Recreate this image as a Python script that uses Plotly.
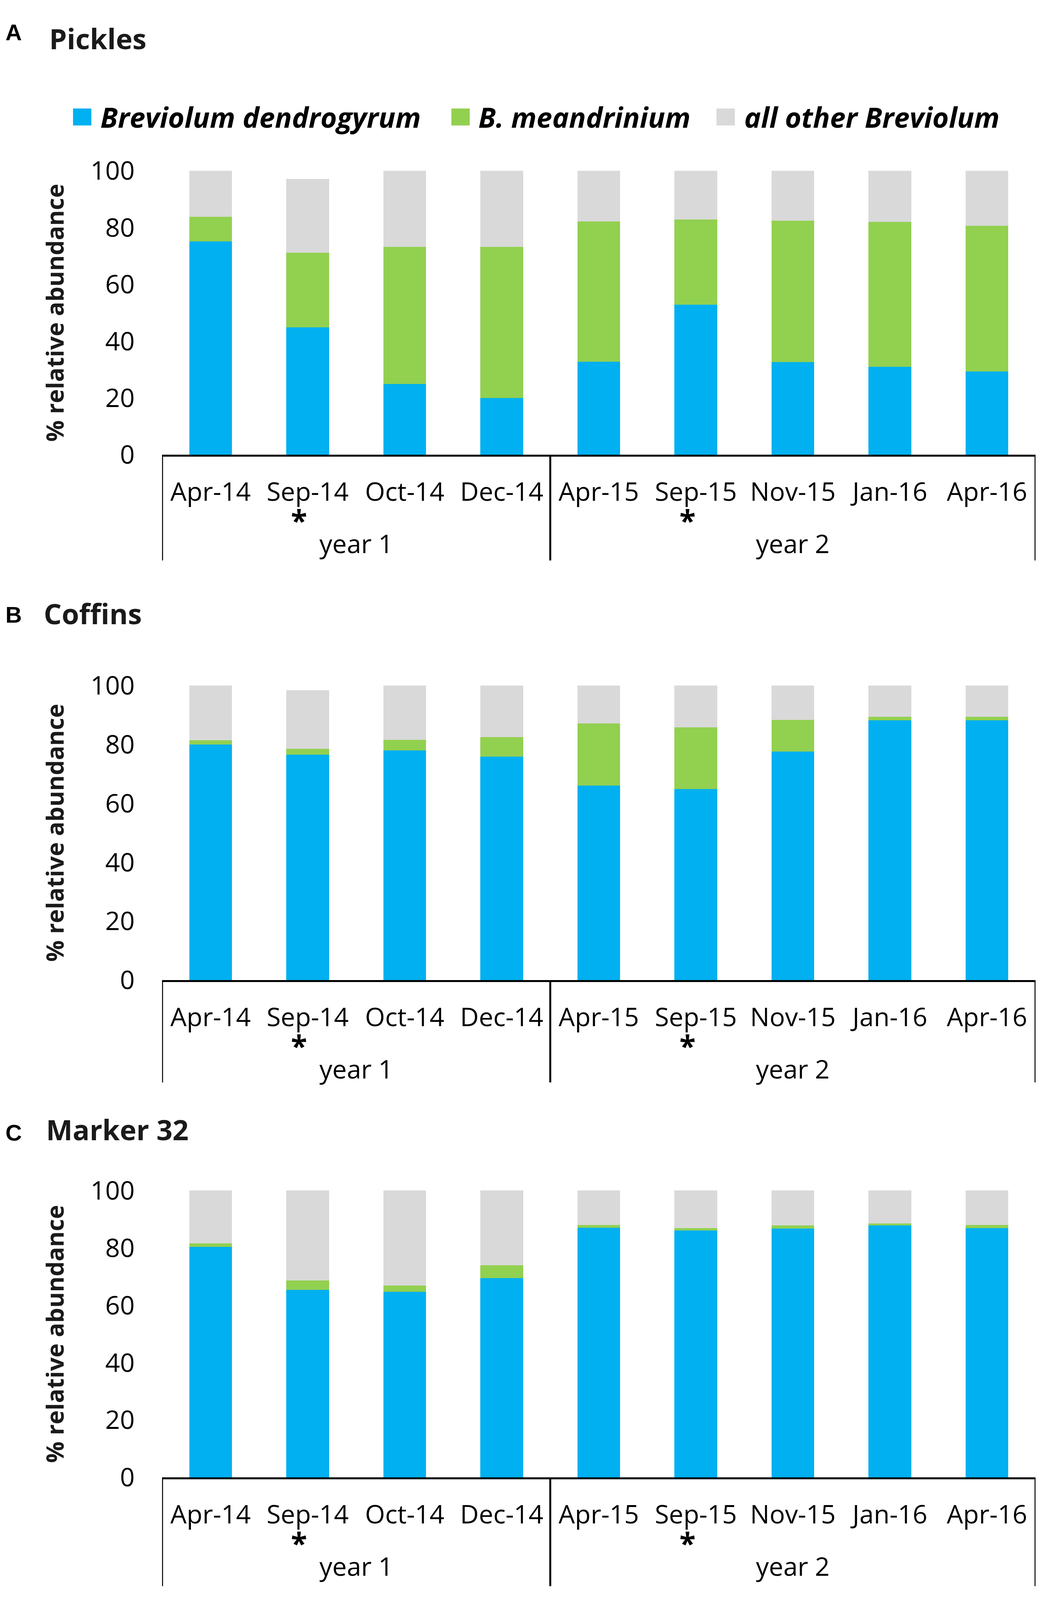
import plotly.graph_objects as go
from plotly.subplots import make_subplots

# reference picture size and the part of the window that actually gets photographed
REF_W, REF_H = 2707, 4638
VIEW_W, VIEW_H = 2707, 4110
PAGE_MARGIN = 8
SY = VIEW_H / REF_H
FIG_W = VIEW_W - 2 * PAGE_MARGIN
FIG_H = 4078

months = ["Apr-14", "Sep-14", "Oct-14", "Dec-14", "Apr-15",
          "Sep-15", "Nov-15", "Jan-16", "Apr-16"]
year_labels = ["year 1", "year 2"]
year_centres = [1.5, 6]          # middle of each month group on the category axis
group_edges = [-0.5, 3.5, 8.5]
marked_months = ["Sep-14", "Sep-15"]

series_names = ["Breviolum dendrogyrum", "B. meandrinium", "all other Breviolum"]
series_colors = ["#00B0F0", "#92D050", "#D9D9D9"]

panel_letters = ["A", "B", "C"]
panel_titles = ["Pickles", "Coffins", "Marker 32"]

# % relative abundance per sampling month
pickles_dendro = [75.1, 44.9, 24.9, 20.0, 32.8, 52.9, 32.7, 31.0, 29.3]
pickles_meand = [8.7, 26.3, 48.3, 53.2, 49.3, 30.0, 49.8, 51.0, 51.4]
pickles_other = [16.2, 26.0, 26.8, 26.8, 17.9, 17.1, 17.5, 18.0, 19.3]

coffins_dendro = [79.9, 76.5, 77.9, 75.8, 66.0, 64.8, 77.6, 88.1, 88.1]
coffins_meand = [1.5, 2.0, 3.6, 6.6, 21.1, 20.9, 10.7, 1.2, 1.2]
coffins_other = [18.6, 19.9, 18.5, 17.6, 12.9, 14.3, 11.7, 10.7, 10.7]

marker32_dendro = [80.3, 65.3, 64.7, 69.5, 87.0, 86.1, 86.7, 87.8, 86.9]
marker32_meand = [1.3, 3.3, 2.1, 4.5, 1.0, 0.8, 1.1, 0.7, 1.1]
marker32_other = [18.4, 31.4, 33.2, 26.0, 12.0, 13.1, 12.2, 11.5, 12.0]

panel_data = [
    [pickles_dendro, pickles_meand, pickles_other],
    [coffins_dendro, coffins_meand, coffins_other],
    [marker32_dendro, marker32_meand, marker32_other],
]


def fx(x):
    """reference x pixel -> paper fraction"""
    return (x - PAGE_MARGIN) / FIG_W


def fy(y):
    """reference y pixel -> paper fraction"""
    return 1 - (y * SY - PAGE_MARGIN) / FIG_H


# pixel layout of each panel in the reference:
# plot top (100), axis (0), end of divider lines, letter / title centres
layout_px = [
    dict(top=449, axis=1288, box=1600, letter=40, title=57, title_x=124),
    dict(top=1969, axis=2840, box=3142, letter=1760, title=1756, title_x=110),
    dict(top=3461, axis=4309, box=4630, letter=3290, title=3280, title_x=116),
]
PLOT_L, PLOT_R = 415, 2652
ASTERISK_OFF = 183   # reference px below the axis
YEAR_OFF = 261

FONT = "Open Sans"
TICK_SIZE = 66

fig = make_subplots(rows=3, cols=1)

for i, vals in enumerate(panel_data):
    for name, color, ys in zip(series_names, series_colors, vals):
        fig.add_trace(go.Bar(x=months, y=ys, name=name, marker_color=color,
                             marker_line_width=0, showlegend=False),
                      row=i + 1, col=1)

annotations = []
shapes = []

for i, lp in enumerate(layout_px):
    n = "" if i == 0 else str(i + 1)
    plot_h = (lp["axis"] - lp["top"]) * SY
    fig.layout["xaxis" + n].update(
        domain=[fx(PLOT_L), fx(PLOT_R)], type="category", range=[-0.5, 8.5],
        showline=True, linecolor="black", linewidth=5, ticks="",
        showgrid=False, zeroline=False,
        tickfont=dict(family=FONT, size=TICK_SIZE, color="black"),
        ticklabelstandoff=33,
    )
    fig.layout["yaxis" + n].update(
        domain=[fy(lp["axis"]), fy(lp["top"])], range=[0, 100], dtick=20,
        showline=False, showgrid=False, zeroline=False, ticks="",
        tickfont=dict(family=FONT, size=TICK_SIZE, color="black"),
        ticklabelstandoff=69,
    )

    # y axis title
    annotations.append(dict(
        text="<b>% relative abundance</b>", textangle=-90, showarrow=False,
        xref="paper", yref="paper", x=fx(140), y=fy((lp["top"] + lp["axis"]) / 2),
        xanchor="center", yanchor="middle",
        font=dict(family=FONT, size=61, color="#1a1a1a"),
    ))
    # panel letter and title
    annotations.append(dict(
        text="<b>%s</b>" % panel_letters[i], showarrow=False,
        xref="paper", yref="paper", x=fx(12), y=fy(lp["letter"]),
        xanchor="left", yanchor="middle",
        font=dict(family="Liberation Sans", size=58, color="black"),
    ))
    annotations.append(dict(
        text="<b>%s</b>" % panel_titles[i], showarrow=False,
        xref="paper", yref="paper", x=fx(lp["title_x"]), y=fy(lp["title"]),
        xanchor="left", yanchor="middle",
        font=dict(family=FONT, size=72, color="#1a1a1a"),
    ))
    # asterisks under the marked months
    for m in marked_months:
        annotations.append(dict(
            text="<b>*</b>", showarrow=False,
            xref="x" + n, yref="y" + n + " domain", x=m, y=0,
            xanchor="center", yanchor="middle", xshift=-22,
            yshift=-(ASTERISK_OFF * SY + 4),
            font=dict(family=FONT, size=76, color="black"),
        ))
    # year group labels
    for xc, lab in zip(year_centres, year_labels):
        annotations.append(dict(
            text=lab, showarrow=False,
            xref="x" + n, yref="y" + n + " domain", x=xc, y=0,
            xanchor="center", yanchor="middle",
            yshift=-(YEAR_OFF * SY - 6),
            font=dict(family=FONT, size=TICK_SIZE, color="black"),
        ))
    # group divider lines hanging below the axis
    depth = (lp["box"] - lp["axis"]) * SY / plot_h
    for xb in group_edges:
        shapes.append(dict(
            type="line", xref="x" + n, yref="y" + n + " domain",
            x0=xb, x1=xb, y0=0, y1=-depth,
            line=dict(color="black", width=5),
        ))

# legend drawn as coloured squares + bold italic labels
legend_pos = [(187, 255), (1156, 1223), (1835, 1904)]
LEG_Y = 290
for (sx, tx), name, color in zip(legend_pos, series_names, series_colors):
    shapes.append(dict(
        type="rect", xref="paper", yref="paper",
        x0=fx(sx), x1=fx(sx + 47), y0=fy(LEG_Y + 25), y1=fy(LEG_Y - 25),
        fillcolor=color, line=dict(width=0),
    ))
    annotations.append(dict(
        text="<b><i>%s</i></b>" % name, showarrow=False,
        xref="paper", yref="paper", x=fx(tx), y=fy(LEG_Y),
        xanchor="left", yanchor="middle",
        font=dict(family=FONT, size=72, color="black"),
    ))

fig.update_layout(
    width=FIG_W, height=FIG_H,
    barmode="stack", bargap=0.56,
    margin=dict(l=0, r=0, t=0, b=0),
    paper_bgcolor="white", plot_bgcolor="white",
    annotations=annotations, shapes=shapes,
    showlegend=False,
)

fig.write_html("out.html")
